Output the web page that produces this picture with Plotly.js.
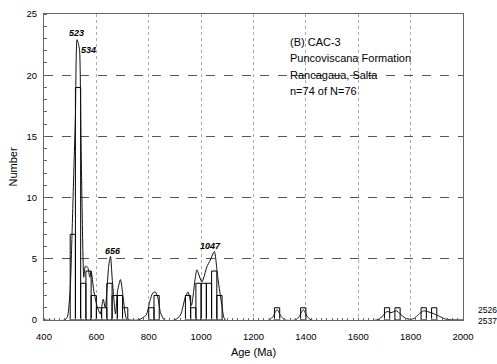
<!DOCTYPE html>
<html>
<head>
<meta charset="utf-8">
<script src="https://cdn.plot.ly/plotly-3.0.1.min.js"></script>
<style>html,body{margin:0;padding:0;background:#fff;}#chart{width:497px;height:364px;}</style>
</head>
<body>
<div id="chart"></div>
<script>
// Histogram bins (20 Ma wide): bin start ages and counts
var binStarts = [500,520,540,560,580,600,620,640,660,680,700, 800,820, 940,960,980,1000,1020,1040,1060, 1280,1380,1700,1740,1840,1880];
var binCounts = [7,19,3,4,2,1,1,3,2,2,1, 1,2, 2,1,3,3,3,4,2, 1,1,1,1,1,1];
var binWidth = 20;

// Probability density curve (age Ma, value)
var curveAge = [400,480,490,500,507,515,520,526,531,536,541,545,552,558,567,575,580,590,603,615,626,634,647,654,660,673,681,692,702,715,730,
  760,790,805,815,825,835,845,860,
  900,921,940,950,963,978,984,1003,1022,1035,1047,1051,1064,1080,1092,
  1260,1275,1290,1305,1320,
  1360,1375,1390,1405,1420,
  1670,1690,1710,1725,1745,1760,1780,1800,
  1815,1830,1850,1870,1890,1910,1930,1950,2000];
var curveVal = [0,0,0.3,2.5,7,13,16.6,22.9,22.6,22,15,9.8,3.5,4.4,4.3,3.5,4.0,2.4,1.1,0.5,1.7,1.0,4.4,5.2,3.5,0.5,2.4,3.3,1.9,0.1,0,
  0,0.4,1.6,2.2,2.3,1.8,0.6,0,
  0,0.4,1.9,2.3,1.2,3.5,4.1,3.1,4.35,4.9,5.5,5.6,3.4,1.1,0,
  0,0.3,0.85,0.3,0,
  0,0.3,0.85,0.3,0,
  0,0.25,0.7,0.6,0.75,0.5,0.15,0.05,
  0.15,0.45,0.75,0.65,0.5,0.3,0.1,0.02,0];

// Peak labels
var peakAges = [523,534,656,1047];
var peakLabelX = [523,532,665,1035];
var peakLabelY = [22.9,21.5,5.1,5.5];
var peakLabels = ['523','534','656','1047'];

// Sample info text
var infoLines = ['(B) CAC-3','Puncoviscana Formation','Rancagaua, Salta','n=74 of N=76'];
// Ages outside plotted range
var outOfRange = ['2526','2537'];

var xTicks = [400,600,800,1000,1200,1400,1600,1800,2000];
var yTicks = [0,5,10,15,20,25];

var binCenters = binStarts.map(function(s){return s + binWidth/2;});

var traces = [
  {type:'bar', x:binCenters, y:binCounts, width:binWidth,
   marker:{color:'rgba(255,255,255,0)', line:{color:'#000', width:1}},
   hoverinfo:'skip', showlegend:false},
  {type:'scatter', mode:'lines', x:curveAge, y:curveVal,
   line:{color:'#111', width:1, shape:'spline', smoothing:0.6},
   hoverinfo:'skip', showlegend:false}
];

var annotations = [];
for (var i=0;i<peakAges.length;i++){
  annotations.push({x:peakLabelX[i], y:peakLabelY[i], xref:'x', yref:'y', text:'<b><i>'+peakLabels[i]+'</i></b>',
    showarrow:false, xanchor: i===1?'left':'center', yanchor:'bottom',
    font:{family:'Liberation Sans, Arial, sans-serif', size:9, color:'#000'}});
}
var infoY = [0.908,0.856,0.802,0.747];
for (var k=0;k<infoLines.length;k++){
  annotations.push({x:0.583, y:infoY[k], xref:'paper', yref:'paper', xanchor:'left', yanchor:'middle',
    text: infoLines[k], showarrow:false,
    font:{family:'Liberation Sans, Arial, sans-serif', size:11, color:'#000'}});
}
for (var j=0;j<outOfRange.length;j++){
  annotations.push({x:1.03, y:0.033 - j*0.036, xref:'paper', yref:'paper', xanchor:'left', yanchor:'middle',
    text: outOfRange[j], showarrow:false,
    font:{family:'Liberation Sans, Arial, sans-serif', size:8.5, color:'#000'}});
}

var layout = {
  width:497, height:364,
  margin:{l:44, r:34, t:14, b:44, pad:0},
  paper_bgcolor:'#fff', plot_bgcolor:'#fff',
  bargap:0,
  font:{family:'Liberation Sans, Arial, sans-serif', size:9.5, color:'#000'},
  xaxis:{range:[400,2000], tickvals:xTicks, ticktext:xTicks.map(String),
    showgrid:true, gridcolor:'#aaa', griddash:'dot', gridwidth:1,
    showline:true, mirror:true, linecolor:'#666', linewidth:1,
    ticks:'', zeroline:false, ticklabelstandoff:8,
    minor:{dtick:20, ticks:'inside', ticklen:2, tickcolor:'#666', showgrid:false},
    title:{text:'Age (Ma)', font:{size:11}, standoff:6},
    tickfont:{size:9.5}},
  yaxis:{range:[0,25], tickvals:yTicks, ticktext:yTicks.map(String),
    showgrid:true, gridcolor:'#555', griddash:'dash', gridwidth:1,
    showline:true, mirror:true, linecolor:'#666', linewidth:1,
    ticks:'', zeroline:false, ticklabelstandoff:4,
    minor:{dtick:1, ticks:'inside', ticklen:3, tickcolor:'#666', showgrid:false},
    title:{text:'Number', font:{size:11}, standoff:6},
    tickfont:{size:9.5}},
  annotations: annotations
};

Plotly.newPlot('chart', traces, layout, {displayModeBar:false, staticPlot:true});
</script>
</body>
</html>
